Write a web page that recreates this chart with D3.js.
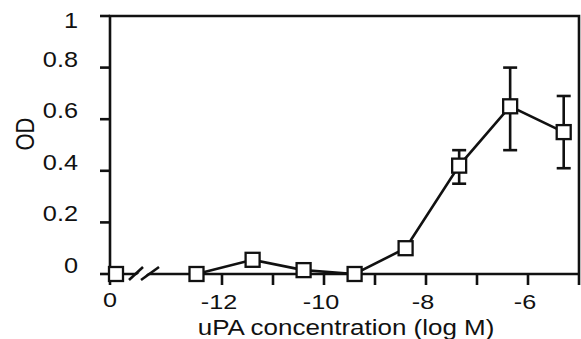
<!DOCTYPE html>
<html>
<head>
<meta charset="utf-8">
<script src="https://cdn.jsdelivr.net/npm/d3@7"></script>
<style>
  body { margin: 0; background: #fff; }
  svg { display: block; font-family: "Liberation Sans", Arial, Helvetica, sans-serif; }
</style>
</head>
<body>
<div id="chart"></div>
<script>
// uPA concentration, log M (control sits at the "0" slot left of the break)
const logConc = [-12.5, -11.4, -10.4, -9.4, -8.4, -7.35, -6.35, -5.3];
const od = [0.0, 0.055, 0.015, 0.0, 0.10, 0.42, 0.65, 0.55];
const errLow = [null, null, null, null, null, 0.35, 0.48, 0.41];
const errHigh = [null, null, null, null, null, 0.48, 0.80, 0.69];
const controlOd = 0.0;

const xTicks = [-12, -11, -10, -9, -8, -7, -6, -5];
const xTickLabels = [-12, -10, -8, -6];
const yTicks = [0, 0.2, 0.4, 0.6, 0.8, 1];

const width = 581, height = 339;
const sx = 1.15; // scan is stretched horizontally, text too

const svg = d3.select("#chart").append("svg")
  .attr("width", width)
  .attr("height", height);

const x = d3.scaleLinear().domain([-12, -5]).range([222, 579]);
const y = d3.scaleLinear().domain([0, 1]).range([274, 16]);
const xCtrl = 110;
const plotL = xCtrl, plotR = x(-5), plotT = y(1), plotB = y(0);

const ink = "#111";

// frame
svg.append("path")
  .attr("d", `M${plotL},${plotB} V${plotT} H${plotR} V${plotB}`)
  .attr("fill", "none")
  .attr("stroke", ink)
  .attr("stroke-width", 2.6);

// x axis line
svg.append("line")
  .attr("x1", plotL).attr("x2", plotR)
  .attr("y1", plotB).attr("y2", plotB)
  .attr("stroke", ink).attr("stroke-width", 2.6);

// y ticks
svg.selectAll("line.ytick")
  .data(yTicks)
  .enter()
  .append("line")
  .attr("class", "ytick")
  .attr("x1", plotL - 10).attr("x2", plotL)
  .attr("y1", d => y(d)).attr("y2", d => y(d))
  .attr("stroke", ink).attr("stroke-width", 2.6);

svg.selectAll("text.ylab")
  .data(yTicks)
  .enter()
  .append("text")
  .attr("class", "ylab")
  .attr("transform", d => `translate(78,${Math.max(y(d) - 1, 28)}) scale(${sx},1)`)
  .attr("text-anchor", "end")
  .style("font-size", "22px")
  .attr("fill", ink)
  .text(d => d === 0 || d === 1 ? d : d3.format(".1f")(d));

// x ticks
svg.selectAll("line.xtick")
  .data(xTicks)
  .enter()
  .append("line")
  .attr("class", "xtick")
  .attr("x1", d => x(d)).attr("x2", d => x(d))
  .attr("y1", plotB).attr("y2", plotB + 11)
  .attr("stroke", ink).attr("stroke-width", 2.6);

svg.append("line")
  .attr("x1", xCtrl).attr("x2", xCtrl)
  .attr("y1", plotB).attr("y2", plotB + 11)
  .attr("stroke", ink).attr("stroke-width", 2.6);

svg.selectAll("text.xlab")
  .data(xTickLabels)
  .enter()
  .append("text")
  .attr("class", "xlab")
  .attr("transform", d => `translate(${x(d) - 3},${plotB + 35}) scale(1.2,1)`)
  .attr("text-anchor", "middle")
  .style("font-size", "21px")
  .attr("fill", ink)
  .text(d => d3.format("d")(d).replace("−", "-"));

svg.append("text")
  .attr("transform", `translate(${xCtrl},${plotB + 33}) scale(1.2,1)`)
  .attr("text-anchor", "middle")
  .style("font-size", "21px")
  .attr("fill", ink)
  .text("0");

// axis break: white gap and two slashes
svg.append("path")
  .attr("d", `M131,${plotB + 6} L145,${plotB - 6} L154,${plotB - 6} L140,${plotB + 6} Z`)
  .attr("fill", "#fff");
[[129, 143], [141, 159]].forEach(([a, b]) => {
  svg.append("line")
    .attr("x1", a).attr("y1", plotB + 6)
    .attr("x2", b).attr("y2", plotB - 7)
    .attr("stroke", ink).attr("stroke-width", 2.6);
});

// axis titles
svg.append("text")
  .attr("transform", `translate(346,335) scale(1.18,1)`)
  .attr("text-anchor", "middle")
  .style("font-size", "22px")
  .attr("fill", ink)
  .text("uPA concentration (log M)");

svg.append("text")
  .attr("transform", `translate(34,134) scale(1.2,1) rotate(-90)`)
  .attr("text-anchor", "middle")
  .style("font-size", "22px")
  .attr("fill", ink)
  .text("OD");

// data
const pts = logConc.map((c, i) => ({ c, v: od[i], lo: errLow[i], hi: errHigh[i] }));

svg.append("path")
  .datum(pts)
  .attr("fill", "none")
  .attr("stroke", ink)
  .attr("stroke-width", 2.6)
  .attr("d", d3.line().x(d => x(d.c)).y(d => y(d.v)));

const eb = pts.filter(d => d.lo != null);
const cap = 7;
const g = svg.append("g").attr("stroke", ink).attr("stroke-width", 2.6);
eb.forEach(d => {
  g.append("line").attr("x1", x(d.c)).attr("x2", x(d.c)).attr("y1", y(d.lo)).attr("y2", y(d.hi));
  g.append("line").attr("x1", x(d.c) - cap).attr("x2", x(d.c) + cap).attr("y1", y(d.lo)).attr("y2", y(d.lo));
  g.append("line").attr("x1", x(d.c) - cap).attr("x2", x(d.c) + cap).attr("y1", y(d.hi)).attr("y2", y(d.hi));
});

const s = 14;
svg.selectAll("rect.pt")
  .data(pts)
  .enter()
  .append("rect")
  .attr("class", "pt")
  .attr("x", d => x(d.c) - s / 2)
  .attr("y", d => y(d.v) - s / 2)
  .attr("width", s).attr("height", s)
  .attr("fill", "#fff")
  .attr("stroke", ink)
  .attr("stroke-width", 2.3);

svg.append("rect")
  .attr("x", xCtrl + 6 - s / 2)
  .attr("y", y(controlOd) - s / 2)
  .attr("width", s).attr("height", s)
  .attr("fill", "#fff")
  .attr("stroke", ink)
  .attr("stroke-width", 2.3);
</script>
</body>
</html>
